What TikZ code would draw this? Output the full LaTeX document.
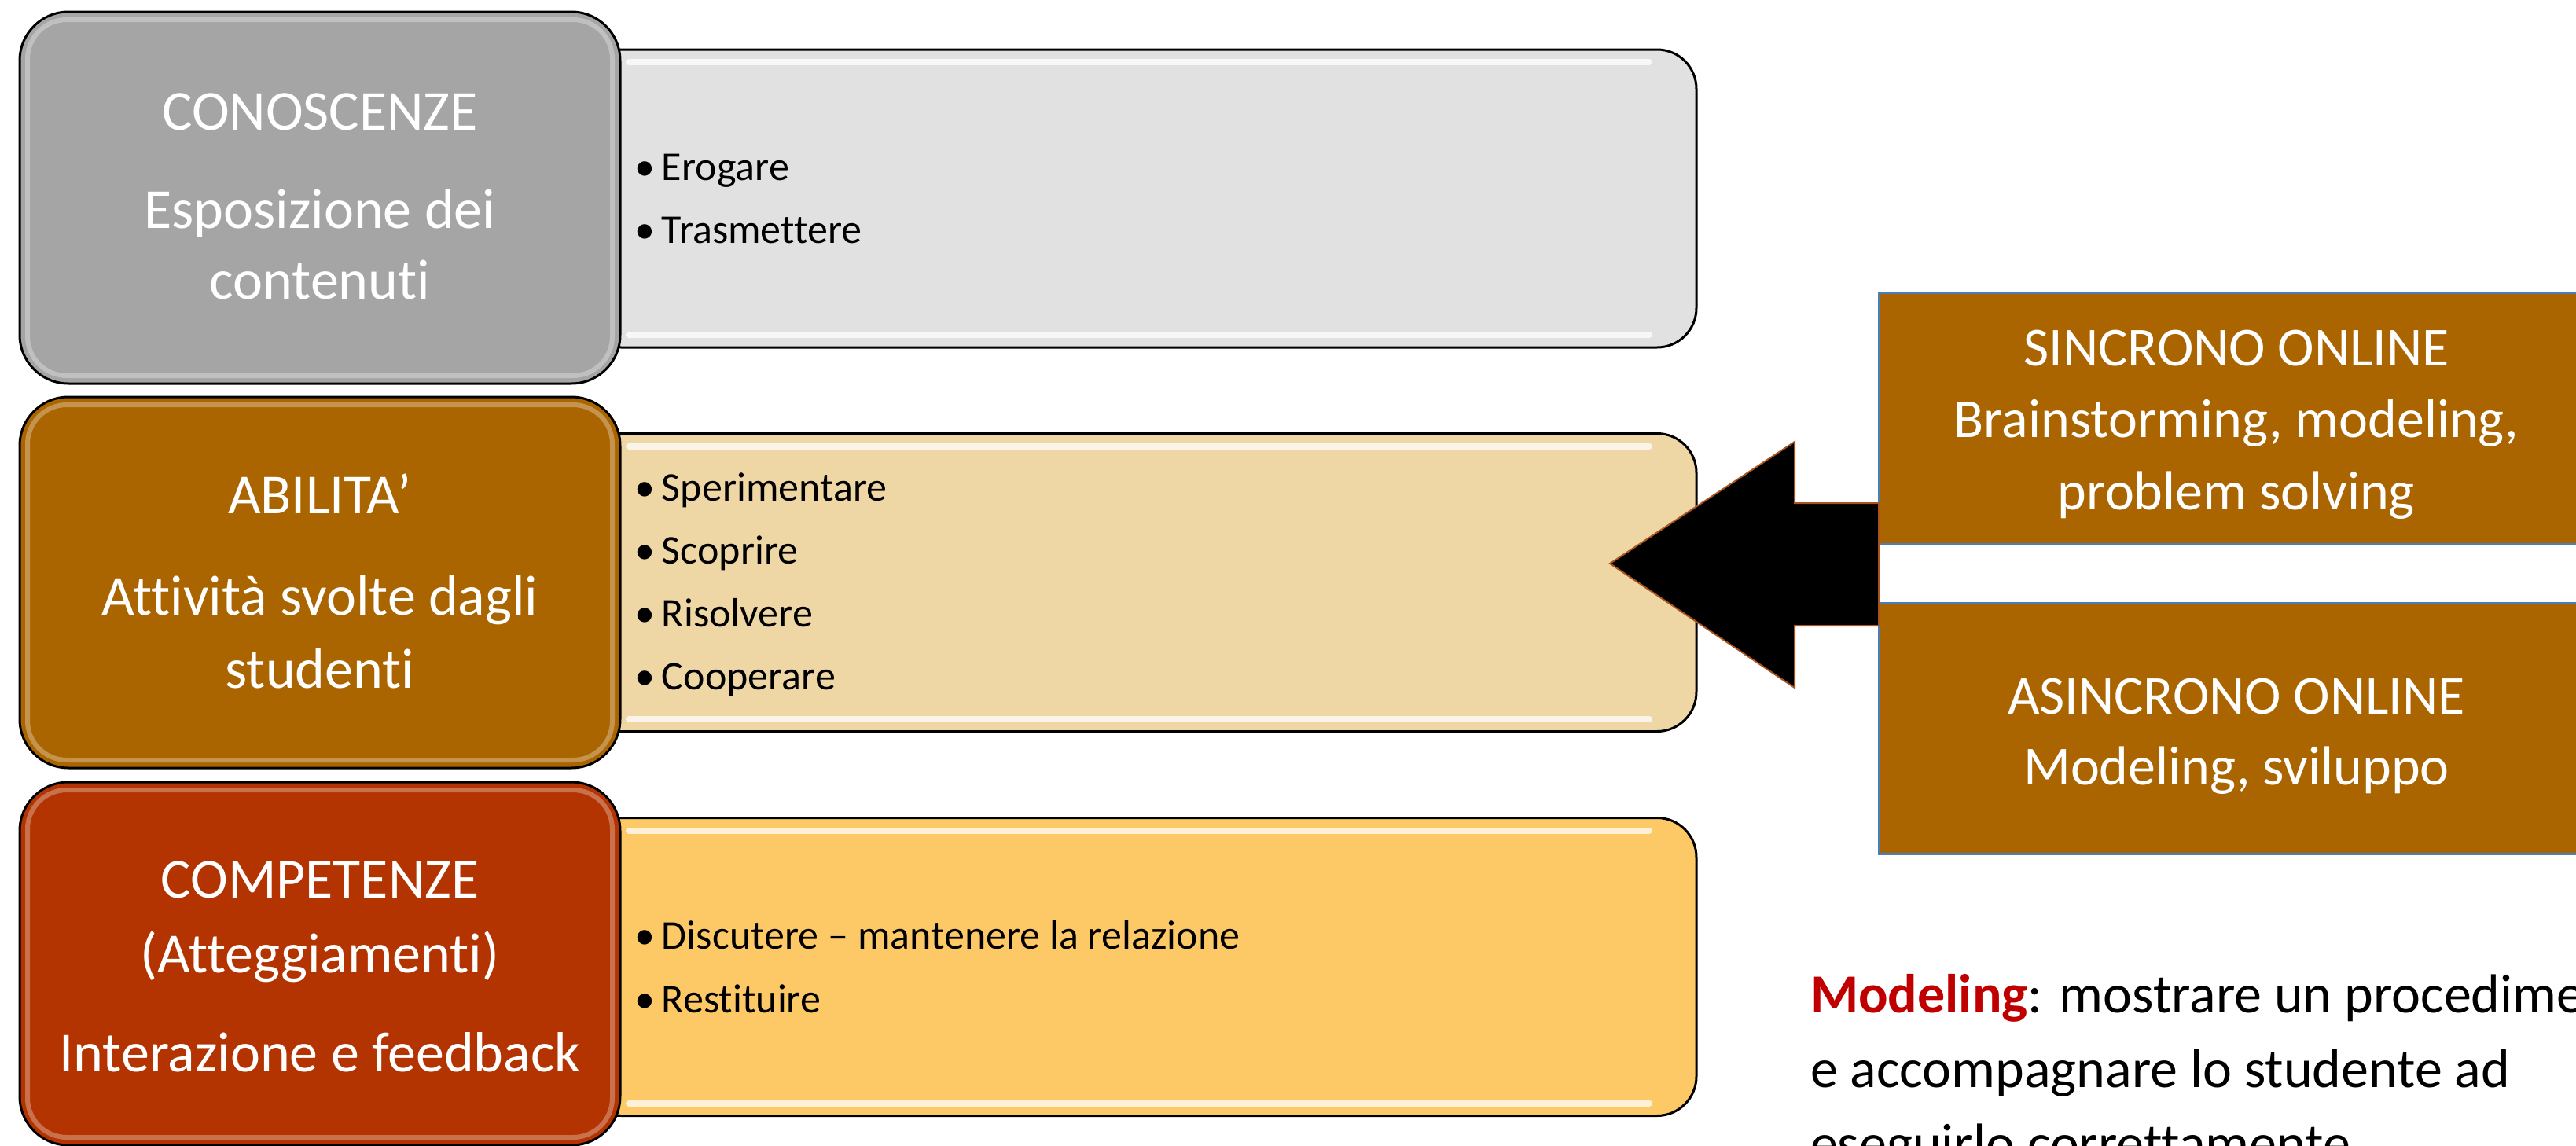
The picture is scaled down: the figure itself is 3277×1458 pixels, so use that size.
\documentclass[tikz,border=0pt]{standalone}
\usepackage{fontspec}
\setmainfont{Carlito}[Ligatures={NoCommon}]
\definecolor{grayD}{RGB}{165,165,165}
\definecolor{grayL}{RGB}{225,225,225}
\definecolor{brownD}{RGB}{171,101,0}
\definecolor{brownL}{RGB}{239,214,165}
\definecolor{redD}{RGB}{179,52,0}
\definecolor{yellowL}{RGB}{253,201,102}
\definecolor{boxblue}{RGB}{74,126,187}
\definecolor{arrowedge}{RGB}{170,85,30}
\definecolor{modred}{RGB}{192,0,0}
\begin{document}
\begin{tikzpicture}[x=0.3pt,y=-0.3pt,
  every node/.style={inner sep=0pt, outer sep=0pt},
  lightbox/.style={draw=black, line width=0.9pt, rounded corners=15pt,
    minimum width=425.4pt, minimum height=113.7pt},
  darkbox/.style={draw=black, line width=0.9pt, rounded corners=18.6pt,
    minimum width=229.2pt},
  rim/.style={draw=white, draw opacity=0.3, line width=1.8pt, rounded corners=15pt},
  gloss/.style={draw=white, draw opacity=0.75, line width=2.4pt, line cap=round},
  sidebox/.style={draw=boxblue, line width=0.9pt, fill=brownD,
    minimum width=273pt, minimum height=95.8pt},
  headtext/.style={text=white, anchor=base, font=\fontsize{21.6pt}{26pt}\selectfont},
  sidetext/.style={text=white, anchor=base, font=\fontsize{21pt}{26pt}\selectfont},
  itemtext/.style={text=black, anchor=base west, font=\fontsize{15.6pt}{19pt}\selectfont},
  notetext/.style={text=black, anchor=base west, font=\fontsize{21pt}{26pt}\selectfont},
  blockarrow/.style={fill=black, draw=arrowedge, line width=0.6pt}
]
\useasboundingbox (0,0) rectangle (3277,1458);
\clip (0,0) rectangle (3277,1458);

% light boxes
\node[lightbox, fill=grayL] (l1) at (1449,252.5) {};
\node[lightbox, fill=brownL] (l2) at (1449,741) {};
\node[lightbox, fill=yellowL] (l3) at (1449,1230) {};
\foreach \b in {l1,l2,l3}{
  \draw[gloss] ([shift={(60,16)}]\b.north west) -- ([shift={(-60,16)}]\b.north east);
  \draw[gloss] ([shift={(60,-16)}]\b.south west) -- ([shift={(-60,-16)}]\b.south east);
}

% dark boxes
\node[darkbox, fill=grayD, minimum height=141.9pt] (d1) at (407,251.5) {};
\node[darkbox, fill=brownD, minimum height=141.6pt] (d2) at (407,741) {};
\node[darkbox, fill=redD, minimum height=138.6pt] (d3) at (407,1226) {};
\foreach \b in {d1,d2,d3}{
  \draw[rim] ([shift={(10,10)}]\b.north west) rectangle ([shift={(-10,-10)}]\b.south east);
}

% right boxes
\node[sidebox] (sinc) at (2845,532.5) {};
\node[sidebox] (asinc) at (2845,927) {};

% block arrow from the right boxes to the second light box
\coordinate (atip) at (2048,717);
\draw[blockarrow] (sinc.west |- 0,640) -- (2283,640) -- (2283,562) -- (atip)
  -- (2283,875) -- (2283,796) -- (sinc.west |- 0,796) -- cycle;

% texts of dark boxes
\node[headtext] (t1a) at (407,165) {CONOSCENZE};
\node[headtext] (t1b) at (407,290) {Esposizione dei};
\node[headtext] (t1c) at (407,380) {contenuti};
\node[headtext] (t2a) at (407,653) {ABILITA’};
\node[headtext] (t2b) at (407,782) {Attività svolte dagli};
\node[headtext] (t2c) at (407,875) {studenti};
\node[headtext] (t3a) at (407,1142) {COMPETENZE};
\node[headtext] (t3b) at (407,1237) {(Atteggiamenti)};
\node[headtext] (t3c) at (407,1363) {Interazione e feedback};

% bullet items
\newcommand{\bul}{\llap{•\hspace{2.5pt}}}
\node[itemtext] (i1a) at (842,229) {\bul Erogare};
\node[itemtext] (i1b) at (842,309) {\bul Trasmettere};
\node[itemtext] (i2a) at (842,637) {\bul Sperimentare};
\node[itemtext] (i2b) at (842,717) {\bul Scoprire};
\node[itemtext] (i2c) at (842,797) {\bul Risolvere};
\node[itemtext] (i2d) at (842,877) {\bul Cooperare};
\node[itemtext] (i3a) at (842,1207) {\bul Discutere – mantenere la relazione};
\node[itemtext] (i3b) at (842,1288) {\bul Restituire};

% texts of right boxes
\node[sidetext] (s1) at (2845,465) {SINCRONO ONLINE};
\node[sidetext] (s2) at (2845,556) {Brainstorming, modeling,};
\node[sidetext] (s3) at (2845,648) {problem solving};
\node[sidetext] (a1) at (2845,908) {ASINCRONO ONLINE};
\node[sidetext] (a2) at (2845,998) {Modeling, sviluppo};

% note (cut off by the picture's edges, as in the reference)
\node[notetext] (n1) at (2303,1288) {\textcolor{modred}{\bfseries Modeling}: mostrare un procedimento};
\node[notetext] (n2) at (2303,1383) {e accompagnare lo studente ad};
\node[notetext] (n3) at (2303,1478) {eseguirlo correttamente};
\end{tikzpicture}
\end{document}
